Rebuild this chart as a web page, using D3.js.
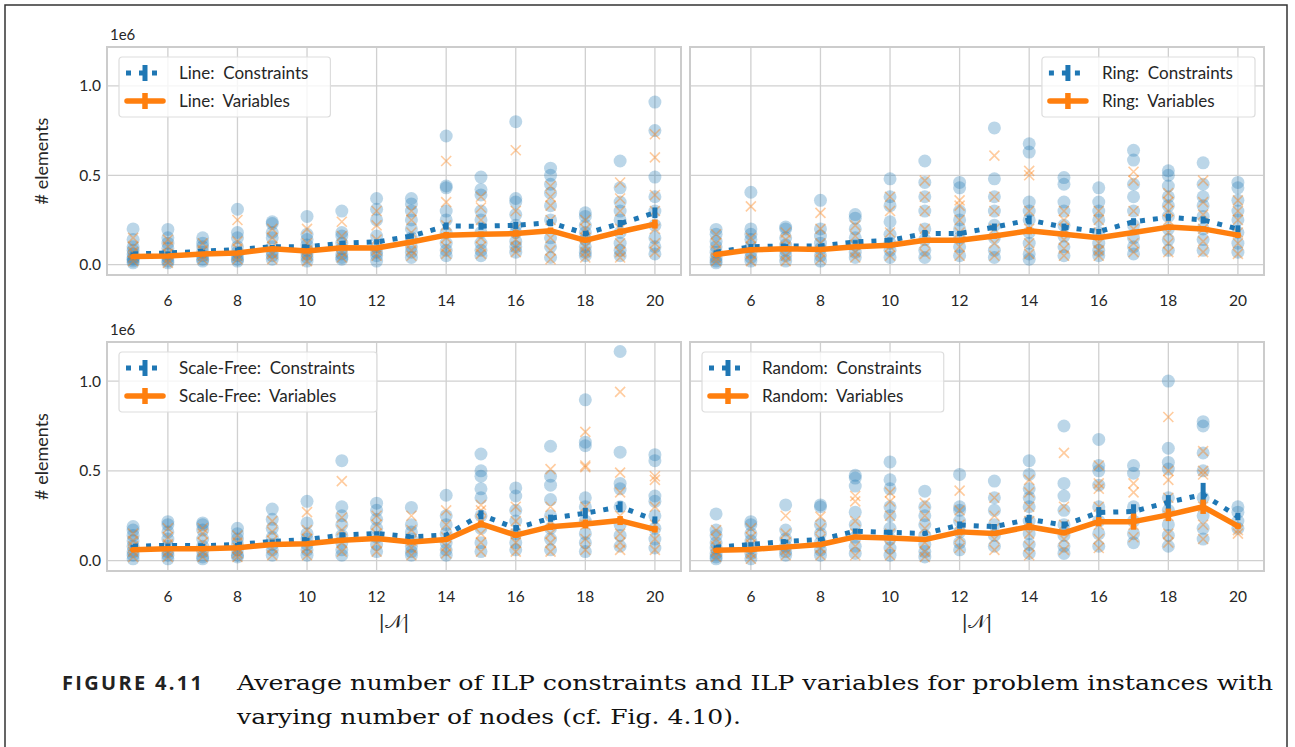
<html>
<head>
<script src="https://d3js.org/d3.v7.min.js"></script>
<style>
  body { margin: 0; background: white; }
  text { font-family: Lato, "Open Sans", sans-serif; fill: #262626; }
</style>
</head>
<body>
<script>
// ---- data (values in units of 1e6) ----
var nodes = [5, 6, 7, 8, 9, 10, 11, 12, 13, 14, 15, 16, 17, 18, 19, 20];
var xTicks = [6, 8, 10, 12, 14, 16, 18, 20];
var yTicks = [0, 0.5, 1.0];

// Line
var lineConsMean = [0.06, 0.065, 0.075, 0.085, 0.1, 0.1, 0.12, 0.127, 0.16, 0.216, 0.215, 0.22, 0.235, 0.174, 0.23, 0.29];
var lineVarsMean = [0.045, 0.048, 0.06, 0.065, 0.089, 0.076, 0.095, 0.093, 0.127, 0.165, 0.17, 0.174, 0.19, 0.136, 0.184, 0.227];
var lineConsErr = [0.008, 0.008, 0.008, 0.01, 0.01, 0.01, 0.012, 0.015, 0.015, 0.02, 0.02, 0.02, 0.02, 0.015, 0.02, 0.03];
var lineVarsErr = [0.006, 0.006, 0.006, 0.008, 0.008, 0.008, 0.01, 0.012, 0.012, 0.018, 0.015, 0.018, 0.018, 0.012, 0.018, 0.025];
var lineConsPts = [
  [0.2, 0.14, 0.1, 0.08, 0.06, 0.04, 0.03, 0.02, 0.01],
  [0.197, 0.15, 0.12, 0.09, 0.06, 0.04, 0.02, 0.01],
  [0.15, 0.12, 0.1, 0.07, 0.05, 0.03, 0.02],
  [0.31, 0.18, 0.15, 0.1, 0.07, 0.05, 0.03, 0.02],
  [0.24, 0.23, 0.18, 0.15, 0.1, 0.07, 0.05, 0.03],
  [0.27, 0.17, 0.14, 0.11, 0.08, 0.06, 0.04, 0.02],
  [0.3, 0.18, 0.16, 0.12, 0.09, 0.06, 0.04, 0.03],
  [0.37, 0.31, 0.25, 0.16, 0.1, 0.07, 0.05, 0.02],
  [0.37, 0.34, 0.3, 0.25, 0.2, 0.15, 0.1, 0.07, 0.04],
  [0.72, 0.44, 0.43, 0.3, 0.25, 0.18, 0.12, 0.08, 0.05],
  [0.49, 0.42, 0.39, 0.3, 0.25, 0.18, 0.12, 0.08, 0.05],
  [0.8, 0.37, 0.35, 0.28, 0.22, 0.18, 0.13, 0.1, 0.07],
  [0.54, 0.5, 0.45, 0.4, 0.33, 0.25, 0.15, 0.1, 0.04],
  [0.29, 0.27, 0.22, 0.18, 0.14, 0.1, 0.07, 0.05],
  [0.58, 0.43, 0.35, 0.3, 0.25, 0.18, 0.12, 0.08, 0.05],
  [0.91, 0.75, 0.49, 0.38, 0.3, 0.22, 0.15, 0.1, 0.06]
];
var lineVarsPts = [
  [0.15, 0.1, 0.07, 0.04, 0.02],
  [0.14, 0.1, 0.06, 0.03, 0.01],
  [0.12, 0.08, 0.05, 0.03],
  [0.25, 0.13, 0.09, 0.05, 0.03],
  [0.2, 0.15, 0.1, 0.06, 0.03],
  [0.2, 0.12, 0.08, 0.05, 0.02],
  [0.24, 0.16, 0.1, 0.07, 0.04],
  [0.3, 0.22, 0.14, 0.08, 0.05],
  [0.3, 0.25, 0.18, 0.12, 0.08, 0.05],
  [0.58, 0.35, 0.22, 0.15, 0.1, 0.06],
  [0.38, 0.32, 0.25, 0.15, 0.1, 0.06],
  [0.64, 0.3, 0.2, 0.14, 0.1, 0.07],
  [0.44, 0.38, 0.33, 0.25, 0.15, 0.08, 0.03],
  [0.25, 0.2, 0.15, 0.1, 0.07, 0.04],
  [0.46, 0.37, 0.3, 0.2, 0.12, 0.07, 0.04],
  [0.73, 0.6, 0.39, 0.3, 0.2, 0.12, 0.07]
];

// Ring
var ringConsMean = [0.07, 0.1, 0.105, 0.105, 0.127, 0.136, 0.174, 0.174, 0.21, 0.25, 0.21, 0.185, 0.24, 0.265, 0.25, 0.2];
var ringVarsMean = [0.057, 0.083, 0.089, 0.085, 0.1, 0.108, 0.136, 0.136, 0.16, 0.19, 0.17, 0.15, 0.18, 0.21, 0.2, 0.165];
var ringConsErr = [0.01, 0.015, 0.01, 0.01, 0.01, 0.015, 0.02, 0.015, 0.02, 0.025, 0.02, 0.015, 0.02, 0.02, 0.02, 0.02];
var ringVarsErr = [0.008, 0.012, 0.008, 0.008, 0.008, 0.012, 0.015, 0.012, 0.015, 0.02, 0.015, 0.012, 0.015, 0.015, 0.015, 0.015];
var ringConsPts = [
  [0.197, 0.17, 0.13, 0.1, 0.07, 0.04, 0.02, 0.01],
  [0.405, 0.2, 0.17, 0.14, 0.1, 0.07, 0.04, 0.02],
  [0.21, 0.2, 0.15, 0.11, 0.08, 0.05, 0.02],
  [0.36, 0.2, 0.16, 0.12, 0.09, 0.05, 0.02],
  [0.28, 0.26, 0.2, 0.15, 0.11, 0.07, 0.04],
  [0.48, 0.38, 0.33, 0.24, 0.17, 0.12, 0.08, 0.04],
  [0.58, 0.46, 0.38, 0.3, 0.2, 0.14, 0.08, 0.04],
  [0.46, 0.43, 0.3, 0.25, 0.2, 0.15, 0.1, 0.05],
  [0.765, 0.48, 0.38, 0.3, 0.22, 0.15, 0.08, 0.04],
  [0.676, 0.63, 0.35, 0.3, 0.25, 0.18, 0.12, 0.06, 0.03],
  [0.487, 0.45, 0.35, 0.3, 0.22, 0.16, 0.1, 0.05],
  [0.43, 0.35, 0.3, 0.25, 0.18, 0.12, 0.08, 0.05],
  [0.64, 0.585, 0.45, 0.38, 0.3, 0.22, 0.15, 0.1, 0.06],
  [0.525, 0.5, 0.44, 0.38, 0.33, 0.27, 0.2, 0.14, 0.08],
  [0.57, 0.45, 0.38, 0.33, 0.27, 0.2, 0.14, 0.08],
  [0.46, 0.43, 0.36, 0.3, 0.25, 0.18, 0.12, 0.07]
];
var ringVarsPts = [
  [0.17, 0.12, 0.08, 0.04, 0.02],
  [0.326, 0.15, 0.1, 0.06, 0.02],
  [0.18, 0.14, 0.1, 0.05, 0.02],
  [0.29, 0.2, 0.12, 0.07, 0.03],
  [0.22, 0.16, 0.11, 0.07, 0.04],
  [0.38, 0.3, 0.18, 0.1, 0.05],
  [0.47, 0.38, 0.3, 0.2, 0.12, 0.06],
  [0.36, 0.33, 0.25, 0.18, 0.1, 0.05],
  [0.61, 0.38, 0.3, 0.2, 0.12, 0.05],
  [0.525, 0.5, 0.3, 0.2, 0.12, 0.06],
  [0.3, 0.25, 0.2, 0.14, 0.09, 0.05],
  [0.3, 0.25, 0.18, 0.12, 0.08, 0.05],
  [0.52, 0.47, 0.3, 0.2, 0.12, 0.07],
  [0.4, 0.35, 0.3, 0.25, 0.18, 0.12, 0.07],
  [0.47, 0.35, 0.28, 0.2, 0.13, 0.07],
  [0.36, 0.3, 0.25, 0.18, 0.12, 0.06]
];

// Scale-Free
var sfConsMean = [0.08, 0.085, 0.083, 0.09, 0.107, 0.117, 0.142, 0.151, 0.132, 0.142, 0.255, 0.18, 0.236, 0.264, 0.3, 0.226];
var sfVarsMean = [0.06, 0.066, 0.066, 0.072, 0.09, 0.094, 0.113, 0.123, 0.104, 0.117, 0.204, 0.142, 0.189, 0.204, 0.223, 0.174];
var sfConsErr = [0.008, 0.01, 0.01, 0.008, 0.01, 0.01, 0.015, 0.012, 0.01, 0.012, 0.025, 0.018, 0.02, 0.03, 0.03, 0.02];
var sfVarsErr = [0.006, 0.008, 0.008, 0.006, 0.008, 0.008, 0.012, 0.01, 0.008, 0.01, 0.02, 0.015, 0.018, 0.025, 0.025, 0.018];
var sfConsPts = [
  [0.19, 0.17, 0.14, 0.11, 0.08, 0.05, 0.03, 0.01],
  [0.217, 0.2, 0.16, 0.12, 0.08, 0.05, 0.03, 0.01],
  [0.21, 0.2, 0.17, 0.12, 0.08, 0.05, 0.02, 0.01],
  [0.18, 0.15, 0.12, 0.09, 0.06, 0.03, 0.02],
  [0.287, 0.23, 0.18, 0.13, 0.09, 0.06, 0.03],
  [0.33, 0.21, 0.15, 0.12, 0.09, 0.06, 0.03],
  [0.557, 0.3, 0.25, 0.2, 0.14, 0.1, 0.06, 0.03],
  [0.32, 0.28, 0.23, 0.18, 0.13, 0.09, 0.05],
  [0.296, 0.2, 0.16, 0.12, 0.08, 0.05, 0.03],
  [0.364, 0.25, 0.2, 0.15, 0.1, 0.06, 0.03],
  [0.594, 0.5, 0.47, 0.4, 0.35, 0.25, 0.18, 0.1, 0.05],
  [0.405, 0.36, 0.28, 0.22, 0.15, 0.1, 0.06],
  [0.637, 0.47, 0.42, 0.34, 0.25, 0.18, 0.12, 0.06],
  [0.896, 0.66, 0.64, 0.35, 0.3, 0.22, 0.15, 0.1, 0.05],
  [1.165, 0.604, 0.43, 0.4, 0.3, 0.2, 0.14, 0.08],
  [0.59, 0.557, 0.36, 0.33, 0.25, 0.18, 0.12, 0.07]
];
var sfVarsPts = [
  [0.15, 0.11, 0.08, 0.05, 0.02],
  [0.18, 0.13, 0.09, 0.05, 0.02],
  [0.18, 0.15, 0.1, 0.05, 0.02],
  [0.14, 0.1, 0.07, 0.04, 0.02],
  [0.22, 0.16, 0.11, 0.07, 0.03],
  [0.27, 0.17, 0.12, 0.07, 0.03],
  [0.443, 0.24, 0.17, 0.1, 0.05],
  [0.25, 0.2, 0.15, 0.1, 0.05],
  [0.25, 0.17, 0.11, 0.07, 0.03],
  [0.28, 0.2, 0.13, 0.08, 0.04],
  [0.31, 0.28, 0.22, 0.15, 0.1, 0.05],
  [0.3, 0.22, 0.15, 0.1, 0.05],
  [0.51, 0.3, 0.22, 0.15, 0.1, 0.05],
  [0.717, 0.53, 0.52, 0.3, 0.2, 0.12, 0.06],
  [0.94, 0.49, 0.38, 0.25, 0.15, 0.1, 0.06],
  [0.47, 0.45, 0.3, 0.2, 0.12, 0.06]
];

// Random
var rndConsMean = [0.075, 0.09, 0.107, 0.117, 0.164, 0.157, 0.151, 0.198, 0.189, 0.23, 0.198, 0.268, 0.274, 0.325, 0.368, 0.245];
var rndVarsMean = [0.057, 0.062, 0.075, 0.09, 0.132, 0.126, 0.117, 0.16, 0.151, 0.189, 0.155, 0.217, 0.217, 0.255, 0.3, 0.192];
var rndConsErr = [0.01, 0.012, 0.01, 0.01, 0.015, 0.015, 0.01, 0.02, 0.015, 0.025, 0.02, 0.03, 0.04, 0.04, 0.065, 0.02];
var rndVarsErr = [0.008, 0.01, 0.008, 0.008, 0.012, 0.012, 0.008, 0.015, 0.012, 0.02, 0.015, 0.025, 0.045, 0.035, 0.04, 0.015];
var rndConsPts = [
  [0.26, 0.17, 0.14, 0.1, 0.07, 0.04, 0.02, 0.01],
  [0.217, 0.2, 0.15, 0.11, 0.07, 0.04, 0.01],
  [0.31, 0.17, 0.12, 0.08, 0.05, 0.03],
  [0.31, 0.3, 0.2, 0.15, 0.1, 0.06, 0.03],
  [0.475, 0.46, 0.415, 0.27, 0.2, 0.13, 0.08, 0.04],
  [0.55, 0.45, 0.4, 0.3, 0.25, 0.18, 0.12, 0.07, 0.03],
  [0.387, 0.3, 0.25, 0.2, 0.14, 0.09, 0.05, 0.02],
  [0.48, 0.3, 0.28, 0.22, 0.16, 0.1, 0.06],
  [0.443, 0.35, 0.28, 0.2, 0.14, 0.08],
  [0.557, 0.48, 0.4, 0.35, 0.3, 0.22, 0.15, 0.09, 0.04],
  [0.75, 0.43, 0.36, 0.28, 0.2, 0.14, 0.08, 0.04],
  [0.675, 0.53, 0.5, 0.42, 0.3, 0.22, 0.15, 0.08],
  [0.53, 0.487, 0.3, 0.22, 0.15, 0.1],
  [1.0, 0.626, 0.547, 0.51, 0.35, 0.28, 0.2, 0.14, 0.08],
  [0.774, 0.75, 0.6, 0.5, 0.35, 0.25, 0.18, 0.12],
  [0.3, 0.27, 0.22, 0.18]
];
var rndVarsPts = [
  [0.17, 0.12, 0.08, 0.05, 0.02],
  [0.18, 0.13, 0.09, 0.04, 0.01],
  [0.25, 0.15, 0.1, 0.06, 0.03],
  [0.245, 0.18, 0.12, 0.07, 0.03],
  [0.36, 0.33, 0.22, 0.15, 0.08, 0.03],
  [0.38, 0.33, 0.25, 0.15, 0.08, 0.03],
  [0.32, 0.25, 0.18, 0.1, 0.05, 0.02],
  [0.39, 0.28, 0.2, 0.13, 0.07],
  [0.35, 0.25, 0.18, 0.12, 0.06],
  [0.45, 0.38, 0.3, 0.22, 0.15, 0.08, 0.03],
  [0.6, 0.3, 0.2, 0.12, 0.06],
  [0.53, 0.43, 0.4, 0.3, 0.2, 0.12, 0.07],
  [0.43, 0.38, 0.2, 0.13],
  [0.8, 0.5, 0.45, 0.35, 0.25, 0.15, 0.1],
  [0.61, 0.5, 0.48, 0.3, 0.2, 0.12],
  [0.17, 0.15]
];

var blue = "#1f77b4", orange = "#ff7f0e";
var W = 1295, H = 747;

var svg = d3.select("body").append("svg").attr("width", W).attr("height", H);

// outer frame of the figure
svg.append("rect").attr("x", 5).attr("y", 5).attr("width", 1282).attr("height", H + 10)
  .style("fill", "none").style("stroke", "#333").style("stroke-width", 1.5);

var panels = [
  {name: "Line", cons: lineConsMean, vars: lineVarsMean, consErr: lineConsErr, varsErr: lineVarsErr,
   consPts: lineConsPts, varsPts: lineVarsPts, x0: 107, x1: 681, y0: 47, y1: 275, legendRight: false, left: true, bottom: false},
  {name: "Ring", cons: ringConsMean, vars: ringVarsMean, consErr: ringConsErr, varsErr: ringVarsErr,
   consPts: ringConsPts, varsPts: ringVarsPts, x0: 690, x1: 1264, y0: 47, y1: 275, legendRight: true, left: false, bottom: false},
  {name: "Scale-Free", cons: sfConsMean, vars: sfVarsMean, consErr: sfConsErr, varsErr: sfVarsErr,
   consPts: sfConsPts, varsPts: sfVarsPts, x0: 107, x1: 681, y0: 342, y1: 571, legendRight: false, left: true, bottom: true},
  {name: "Random", cons: rndConsMean, vars: rndVarsMean, consErr: rndConsErr, varsErr: rndVarsErr,
   consPts: rndConsPts, varsPts: rndVarsPts, x0: 690, x1: 1264, y0: 342, y1: 571, legendRight: false, left: false, bottom: true}
];

panels.forEach(function(p) {
  var x = d3.scaleLinear().domain([4.25, 20.75]).range([p.x0, p.x1]);
  var y = d3.scaleLinear().domain([-0.058, 1.218]).range([p.y1, p.y0]);
  var g = svg.append("g");

  // grid
  g.selectAll(".gx").data(xTicks).enter().append("line")
    .attr("x1", d => x(d)).attr("x2", d => x(d)).attr("y1", p.y0).attr("y2", p.y1)
    .style("stroke", "#d0d0d0").style("stroke-width", 1.3);
  g.selectAll(".gy").data(yTicks).enter().append("line")
    .attr("x1", p.x0).attr("x2", p.x1).attr("y1", d => y(d)).attr("y2", d => y(d))
    .style("stroke", "#d0d0d0").style("stroke-width", 1.3);

  // x tick labels
  g.selectAll(".tx").data(xTicks).enter().append("text")
    .attr("x", d => x(d)).attr("y", p.y1 + 31)
    .attr("text-anchor", "middle").style("font-size", "15.5px").text(d => d);

  if (p.left) {
    g.selectAll(".ty").data(yTicks).enter().append("text")
      .attr("x", p.x0 - 6).attr("y", d => y(d) + 5.5)
      .attr("text-anchor", "end").style("font-size", "15.5px").text(d => d.toFixed(1));
    g.append("text").attr("x", 110).attr("y", p.y0 - 7).style("font-size", "15px").text("1e6");
    g.append("text").attr("transform", "translate(48," + ((p.y0 + p.y1) / 2) + ") rotate(-90)")
      .attr("text-anchor", "middle").style("font-size", "18px").text("# elements");
  }
  if (p.bottom) {
    g.append("text").attr("x", (p.x0 + p.x1) / 2).attr("y", p.y1 + 57)
      .attr("text-anchor", "middle").style("font-size", "19px")
      .style("font-family", "'DejaVu Serif', serif").text("|\uD835\uDCA9|");
  }

  // scatter: constraints (circles), variables (crosses)
  var cPts = [], vPts = [];
  nodes.forEach(function(n, i) {
    p.consPts[i].forEach(v => cPts.push([n, v]));
    p.varsPts[i].forEach(v => vPts.push([n, v]));
  });
  g.selectAll(".c").data(cPts).enter().append("circle")
    .attr("cx", d => x(d[0])).attr("cy", d => y(d[1])).attr("r", 6.5)
    .style("fill", blue).style("opacity", 0.3);
  var s = 5;
  g.selectAll(".v").data(vPts).enter().append("path")
    .attr("transform", d => "translate(" + x(d[0]) + "," + y(d[1]) + ")")
    .attr("d", "M" + (-s) + "," + (-s) + "L" + s + "," + s + "M" + (-s) + "," + s + "L" + s + "," + (-s))
    .style("stroke", orange).style("stroke-width", 1.6).style("fill", "none").style("opacity", 0.4);

  // mean lines with error bars
  var line = d3.line().x((d, i) => x(nodes[i])).y(d => y(d));
  g.append("path").datum(p.cons).attr("d", line)
    .style("fill", "none").style("stroke", blue).style("stroke-width", 5)
    .style("stroke-dasharray", "5,8");
  g.selectAll(".ec").data(p.cons).enter().append("line")
    .attr("x1", (d, i) => x(nodes[i])).attr("x2", (d, i) => x(nodes[i]))
    .attr("y1", (d, i) => y(d - p.consErr[i])).attr("y2", (d, i) => y(d + p.consErr[i]))
    .style("stroke", blue).style("stroke-width", 5);
  g.append("path").datum(p.vars).attr("d", line)
    .style("fill", "none").style("stroke", orange).style("stroke-width", 5.5)
    .style("stroke-linejoin", "round").style("stroke-linecap", "round");
  g.selectAll(".ev").data(p.vars).enter().append("line")
    .attr("x1", (d, i) => x(nodes[i])).attr("x2", (d, i) => x(nodes[i]))
    .attr("y1", (d, i) => y(d - p.varsErr[i])).attr("y2", (d, i) => y(d + p.varsErr[i]))
    .style("stroke", orange).style("stroke-width", 5.5);

  // axes frame
  g.append("rect").attr("x", p.x0).attr("y", p.y0).attr("width", p.x1 - p.x0).attr("height", p.y1 - p.y0)
    .style("fill", "none").style("stroke", "#cccccc").style("stroke-width", 2);

  // legend
  var lg = g.append("g");
  var box = lg.append("rect").attr("rx", 3).attr("ry", 3)
    .style("fill", "white").style("fill-opacity", 0.8).style("stroke", "#dddddd").style("stroke-width", 1.2);
  var labels = [p.name + ":\u00a0 Constraints", p.name + ":\u00a0 Variables"];
  var txt = lg.selectAll(".lt").data(labels).enter().append("text")
    .attr("x", 60).attr("y", (d, i) => 22 + i * 28).style("font-size", "17px").text(d => d);
  var tw = d3.max(txt.nodes(), n => n.getComputedTextLength());
  var bw = 60 + tw + 22, bh = 60;
  box.attr("x", 0).attr("y", 0).attr("width", bw).attr("height", bh);
  // constraint handle
  lg.append("line").attr("x1", 7).attr("x2", 45).attr("y1", 16).attr("y2", 16)
    .style("stroke", blue).style("stroke-width", 5).style("stroke-dasharray", "5,8");
  lg.append("line").attr("x1", 26).attr("x2", 26).attr("y1", 8).attr("y2", 24)
    .style("stroke", blue).style("stroke-width", 5);
  // variable handle
  lg.append("line").attr("x1", 8).attr("x2", 44).attr("y1", 44).attr("y2", 44)
    .style("stroke", orange).style("stroke-width", 5.5).style("stroke-linecap", "round");
  lg.append("line").attr("x1", 26).attr("x2", 26).attr("y1", 36).attr("y2", 52)
    .style("stroke", orange).style("stroke-width", 5.5);
  var lx = p.legendRight ? p.x1 - 9 - bw : p.x0 + 12;
  lg.attr("transform", "translate(" + lx + "," + (p.y0 + 10) + ")");
});

// caption
svg.append("text").attr("x", 62).attr("y", 690)
  .style("font-family", "'Open Sans', sans-serif").style("font-weight", "bold")
  .style("font-size", "20px").style("fill", "#222")
  .attr("textLength", 140).attr("lengthAdjust", "spacing")
  .text("FIGURE 4.11");
svg.append("text").attr("x", 237).attr("y", 690)
  .style("font-family", "'DejaVu Serif', serif").style("font-size", "21px").style("fill", "#111")
  .attr("textLength", 1036).attr("lengthAdjust", "spacingAndGlyphs")
  .text("Average number of ILP constraints and ILP variables for problem instances with");
svg.append("text").attr("x", 237).attr("y", 724)
  .style("font-family", "'DejaVu Serif', serif").style("font-size", "21px").style("fill", "#111")
  .attr("textLength", 504).attr("lengthAdjust", "spacingAndGlyphs")
  .text("varying number of nodes (cf. Fig. 4.10).");
</script>
</body>
</html>
